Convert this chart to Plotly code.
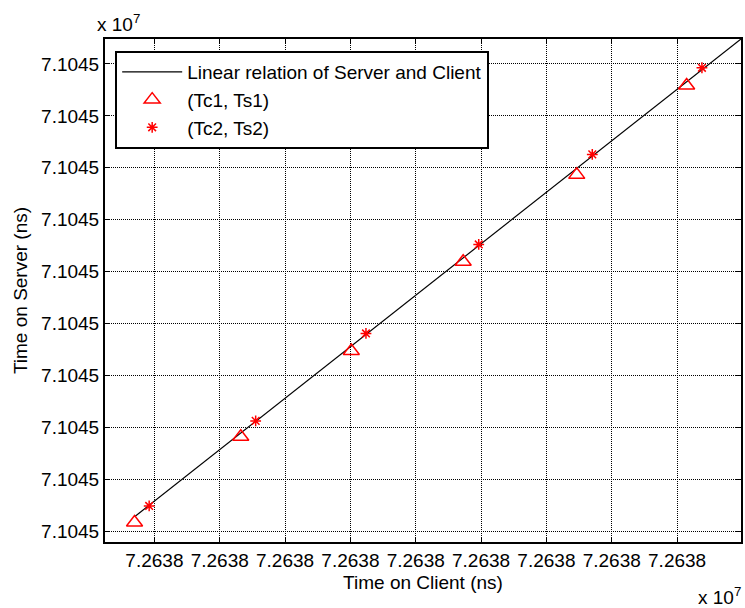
import plotly.graph_objects as go

# Timestamp pairs exchanged between client and server (ns)
tc1 = [72638098.48, 72638106.61, 72638115.07, 72638123.63, 72638132.32, 72638140.73]
ts1 = [71045100.85, 71045109.10, 71045117.36, 71045125.96, 71045134.32, 71045142.92]
tc2 = [72638099.60, 72638107.75, 72638116.19, 72638124.82, 72638133.51, 72638141.90]
ts2 = [71045102.44, 71045110.63, 71045119.05, 71045127.62, 71045136.29, 71045144.63]

# Endpoints of the fitted linear relation
line_tc = [72638098.53, 72638144.89]
line_ts = [71045101.45, 71045147.40]

# Axis ticks (labels shown in units of 1e7)
x_ticks = [72638100 + 5 * k for k in range(9)]
x_tick_text = ["7.2638"] * len(x_ticks)
y_ticks = [71045100 + 5 * k for k in range(10)]
y_tick_text = ["7.1045"] * len(y_ticks)

x_range = [72638096.22, 72638144.89]
y_range = [71045098.97, 71045147.40]

FONT = "Liberation Sans, Arial, sans-serif"
FS = 19

fig = go.Figure()
fig.add_trace(go.Scatter(
    x=line_tc, y=line_ts, mode="lines",
    line=dict(color="black", width=1.2),
    name="Linear relation of Server and Client",
))
fig.add_trace(go.Scatter(
    x=tc1, y=ts1, mode="markers",
    marker=dict(symbol="triangle-up-open", size=14, color="#ff0000",
                line=dict(color="#ff0000", width=1.5)),
    name="(Tc1, Ts1)",
))
fig.add_trace(go.Scatter(
    x=tc2, y=ts2, mode="markers",
    marker=dict(symbol="asterisk-open", size=9, color="#ff0000",
                line=dict(color="#ff0000", width=1.5)),
    name="(Tc2, Ts2)",
))

axis_common = dict(
    showline=True, linecolor="black", linewidth=2, mirror="ticks",
    ticks="inside", ticklen=5, tickcolor="black", tickwidth=1,
    showgrid=True, gridcolor="black", gridwidth=1, griddash="1px,1px",
    zeroline=False,
    tickfont=dict(family=FONT, size=FS, color="black"),
)

fig.update_xaxes(
    range=x_range, tickmode="array", tickvals=x_ticks, ticktext=x_tick_text,
    title=dict(text="Time on Client (ns)", font=dict(family=FONT, size=FS, color="black"), standoff=6),
    **axis_common,
)
fig.update_yaxes(
    range=y_range, tickmode="array", tickvals=y_ticks, ticktext=y_tick_text,
    title=dict(text="Time on Server (ns)", font=dict(family=FONT, size=FS, color="black"), standoff=8),
    **axis_common,
)

fig.add_annotation(text="x 10<sup>7</sup>", xref="paper", yref="paper",
                   x=0.0, y=1.0, xanchor="left", yanchor="bottom", xshift=-10, yshift=2,
                   showarrow=False, font=dict(family=FONT, size=FS, color="black"))
fig.add_annotation(text="x 10<sup>7</sup>", xref="paper", yref="paper",
                   x=1.0, y=0.0, xanchor="right", yanchor="top", xshift=2, yshift=-40,
                   showarrow=False, font=dict(family=FONT, size=FS, color="black"))

fig.update_layout(
    width=745, height=608,
    margin=dict(l=105, r=2, t=39, b=66),
    paper_bgcolor="white", plot_bgcolor="white",
    font=dict(family=FONT, size=FS, color="black"),
    showlegend=True,
    legend=dict(
        x=0.016, y=0.976, xanchor="left", yanchor="top",
        bgcolor="white", bordercolor="black", borderwidth=2,
        font=dict(family=FONT, size=FS, color="black"),
        tracegroupgap=0, itemwidth=60,
    ),
)

fig.write_html("out.html")
